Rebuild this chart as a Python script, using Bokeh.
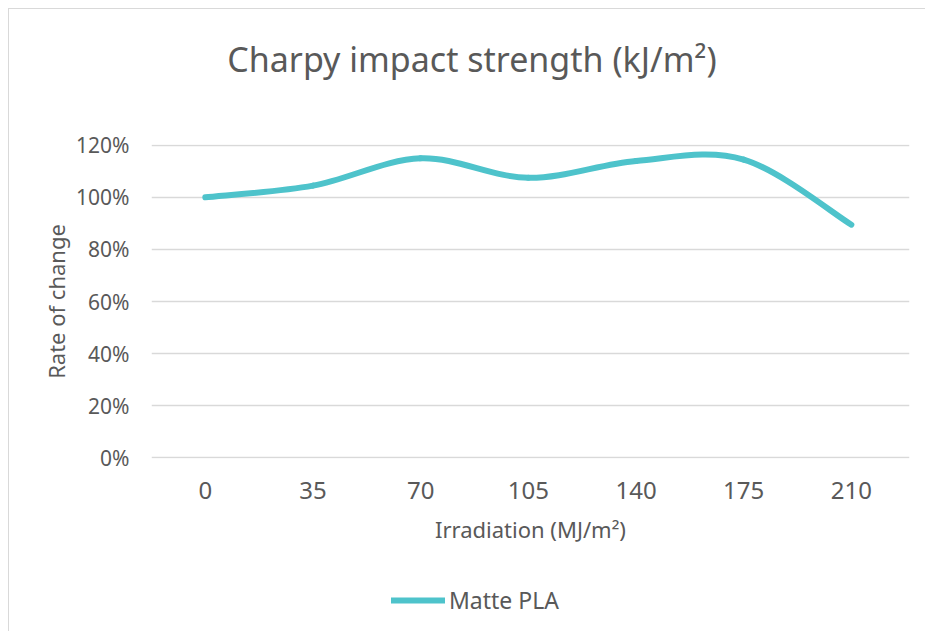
from bokeh.plotting import figure
from bokeh.layouts import column
from bokeh.models import (Range1d, FixedTicker, PrintfTickFormatter, Legend, LegendItem,
                          ColumnDataSource, Label)
from bokeh.embed import file_html
from bokeh.resources import INLINE

# ---- data ----
irradiation = [0, 35, 70, 105, 140, 175, 210]
matte_pla = [100, 104.5, 115, 107.5, 114, 114.5, 89.5]
y_ticks = [0, 20, 40, 60, 80, 100, 120]
title_text = "Charpy impact strength (kJ/m²)"
x_label = "Irradiation (MJ/m²)"
y_label = "Rate of change"
series_name = "Matte PLA"

FONT = "Noto Sans"
TXT = "#595959"
LINE = "#4EC3CB"
BORDER = "1.5px solid #d9d9d9"
W = 917
FRAME_W = 757  # strips share the main chart's frame (column aligns frames)


def strip(height, border):
    f = figure(width=W, height=height, output_backend="svg", toolbar_location=None,
               x_range=Range1d(0, FRAME_W), y_range=Range1d(0, height),
               x_axis_location=None, y_axis_location=None,
               min_border=0, min_border_left=0, min_border_right=0,
               min_border_top=0, min_border_bottom=0)
    f.grid.visible = False
    f.outline_line_color = None
    f.styles = border
    return f


# ---- title strip ----
top = strip(100, {"border-left": BORDER, "border-top": BORDER})
top.add_layout(Label(x=320, y=51, text=title_text, text_align="center", text_baseline="middle",
                     text_font=FONT, text_font_size="34px", text_color=TXT))

# ---- main chart ----
p = figure(width=W, height=462, output_backend="svg", toolbar_location=None,
           x_range=Range1d(-17.5, 228.9), y_range=Range1d(-0.3, 120.3),
           min_border_left=142, min_border_right=17, min_border_top=36, min_border_bottom=112)
p.styles = {"border-left": BORDER}
p.outline_line_color = None

# smoothed line (Catmull-Rom style bezier segments, like Excel's smoothed line)
n = len(irradiation)
x0, y0, x1, y1, cx0, cy0, cx1, cy1 = [], [], [], [], [], [], [], []
for i in range(n - 1):
    pa = (irradiation[max(i - 1, 0)], matte_pla[max(i - 1, 0)])
    pb = (irradiation[i], matte_pla[i])
    pc = (irradiation[i + 1], matte_pla[i + 1])
    pd = (irradiation[min(i + 2, n - 1)], matte_pla[min(i + 2, n - 1)])
    x0.append(pb[0]); y0.append(pb[1]); x1.append(pc[0]); y1.append(pc[1])
    cx0.append(pb[0] + (pc[0] - pa[0]) / 6); cy0.append(pb[1] + (pc[1] - pa[1]) / 6)
    cx1.append(pc[0] - (pd[0] - pb[0]) / 6); cy1.append(pc[1] - (pd[1] - pb[1]) / 6)
src = ColumnDataSource(dict(x0=x0, y0=y0, x1=x1, y1=y1, cx0=cx0, cy0=cy0, cx1=cx1, cy1=cy1))
p.bezier(x0="x0", y0="y0", x1="x1", y1="y1", cx0="cx0", cy0="cy0", cx1="cx1", cy1="cy1",
         source=src, line_color=LINE, line_width=6, line_cap="round", line_join="round")

p.xaxis.ticker = FixedTicker(ticks=irradiation)
p.yaxis.ticker = FixedTicker(ticks=y_ticks)
p.yaxis.formatter = PrintfTickFormatter(format="%d%%")
for ax in (p.xaxis[0], p.yaxis[0]):
    ax.axis_line_color = None
    ax.major_tick_line_color = None
    ax.minor_tick_line_color = None
    ax.major_label_text_font = FONT
    ax.major_label_text_color = TXT
    ax.axis_label_text_font = FONT
    ax.axis_label_text_color = TXT
    ax.axis_label_text_font_style = "normal"
p.xaxis.major_label_text_font_size = "24px"
p.yaxis.major_label_text_font_size = "21px"
p.xaxis.major_label_standoff = 17
p.yaxis.major_label_standoff = 16
p.xaxis.axis_label = x_label
p.yaxis.axis_label = y_label
p.xaxis.axis_label_text_font_size = "22px"
p.yaxis.axis_label_text_font_size = "22px"
p.xaxis.axis_label_standoff = 12
p.yaxis.axis_label_standoff = 2

p.xgrid.grid_line_color = None
p.ygrid.grid_line_color = "#d9d9d9"
p.ygrid.grid_line_width = 1.5

# ---- legend strip ----
lg = strip(61, {"border-left": BORDER})
lg.x_range = Range1d(-17.5, 228.9)
lg.y_range = Range1d(-1000, -900)   # series kept out of view; only its legend entry shows
series_line = lg.line(irradiation, matte_pla, line_color=LINE, line_width=6, line_cap="round")
legend = Legend(items=[LegendItem(label=series_name, renderers=[series_line])],
                location=(240, 15), orientation="horizontal",
                glyph_width=54, glyph_height=24, label_height=24, label_standoff=4,
                padding=0, margin=0, border_line_color=None, background_fill_alpha=0,
                label_text_font=FONT, label_text_font_size="23px", label_text_color=TXT)
lg.add_layout(legend, "center")

layout = column(top, p, lg, spacing=0)
layout.margin = (8, 0, 0, 8)
open("out.html", "w").write(file_html(layout, INLINE))
